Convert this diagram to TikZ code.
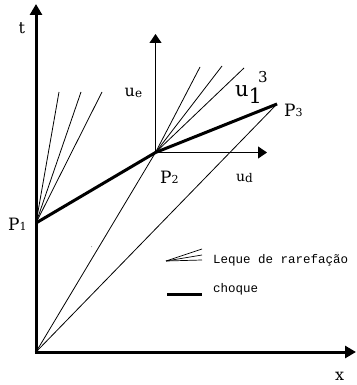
\documentclass[tikz,border=0pt]{standalone}
\usepackage{fontspec}
\setmainfont{DejaVu Serif}
\newfontfamily\monof{Liberation Mono}
\usetikzlibrary{arrows.meta}
\begin{document}
\begin{tikzpicture}[x=1pt,y=-1pt,
  thinln/.style={line width=0.8pt},
  thickln/.style={line width=3pt},
  mainaxis/.style={line width=3pt,-{Triangle[length=11pt,width=12pt]}},
  subaxis/.style={line width=1pt,-{Triangle[length=9pt,width=12pt]}},
  lbl/.style={inner sep=0pt,anchor=base west},
  big/.style={font=\fontsize{16}{16}\selectfont},
  leg/.style={inner sep=0pt,anchor=base west,font=\monof\fontsize{12.5}{12.5}\selectfont}
]
\useasboundingbox (0,0) rectangle (356,385);
% key points
\coordinate (O) at (36,352);
\coordinate (tT) at (36,4);
\coordinate (xT) at (356,352);
\coordinate (P1) at (36,223);
\coordinate (P2) at (155.5,152.5);
\coordinate (P3) at (277,104);
\coordinate (ueT) at (155.5,34);
\coordinate (udT) at (267,152.5);
% rarefaction fan ends at P1
\coordinate (fa1) at (59,92);
\coordinate (fa2) at (81,92);
\coordinate (fa3) at (102,92);
% rarefaction fan ends at P2
\coordinate (fb1) at (200,67);
\coordinate (fb2) at (222,66);
\coordinate (fb3) at (244,68);
% legend
\coordinate (lf0) at (166,261);
\coordinate (lf1) at (202,249);
\coordinate (lf2) at (202,255);
\coordinate (lf3) at (202,260);
\coordinate (lc0) at (167,294);
\coordinate (lc1) at (202,294);

% thin characteristic lines
\draw[thinln] (O) -- (P2);
\draw[thinln] (O) -- (P3);
\foreach \e in {fa1,fa2,fa3} \draw[thinln] (P1) -- (\e);
\foreach \e in {fb1,fb2,fb3} \draw[thinln] (P2) -- (\e);
% local axes at P2
\draw[subaxis] (P2) -- (ueT);
\draw[subaxis] (P2) -- (udT);
% shocks
\draw[thickln] (P1) -- (P2) -- (P3);
% main axes
\draw[mainaxis] (O) -- (tT);
\draw[mainaxis] ([xshift=-1.5pt]O) -- (xT);
% stray dot
\fill[gray] (91.7,246.7) circle (0.5pt);

% labels
\node[lbl,big] (lt) at (18.5,34) {t};
\node[lbl,big] (lx) at (335,380) {x};
\node[lbl] (lP1) at (8,230) {\fontsize{17}{17}\selectfont P\fontsize{11}{11}\selectfont 1};
\node[lbl] (lP2) at (160,183) {\fontsize{17}{17}\selectfont P\fontsize{11}{11}\selectfont 2};
\node[lbl] (lP3) at (284,117) {\fontsize{17}{17}\selectfont P\fontsize{11}{11}\selectfont 3};
\node[lbl] (lue) at (124.5,97) {\fontsize{16}{16}\selectfont u\raisebox{-0.5pt}{\fontsize{12}{12}\selectfont e}};
\node[lbl] (lud) at (236,181.5) {\fontsize{14}{14}\selectfont u\raisebox{-0.5pt}{\fontsize{12}{12}\selectfont d}};
\node[lbl] (lu13) at (235,97) {\fontsize{21}{21}\selectfont u\raisebox{-6pt}{\fontsize{21}{21}\selectfont 1}\kern-4pt\raisebox{14pt}{\fontsize{15}{15}\selectfont 3}};

% legend
\foreach \e in {lf1,lf2,lf3} \draw[line width=0.7pt] (lf0) -- (\e);
\draw[thickln] (lc0) -- (lc1);
\node[leg] (lleq) at (213,263) {Leque de rarefação};
\node[leg] (lcho) at (213,292) {choque};
\end{tikzpicture}
\end{document}
